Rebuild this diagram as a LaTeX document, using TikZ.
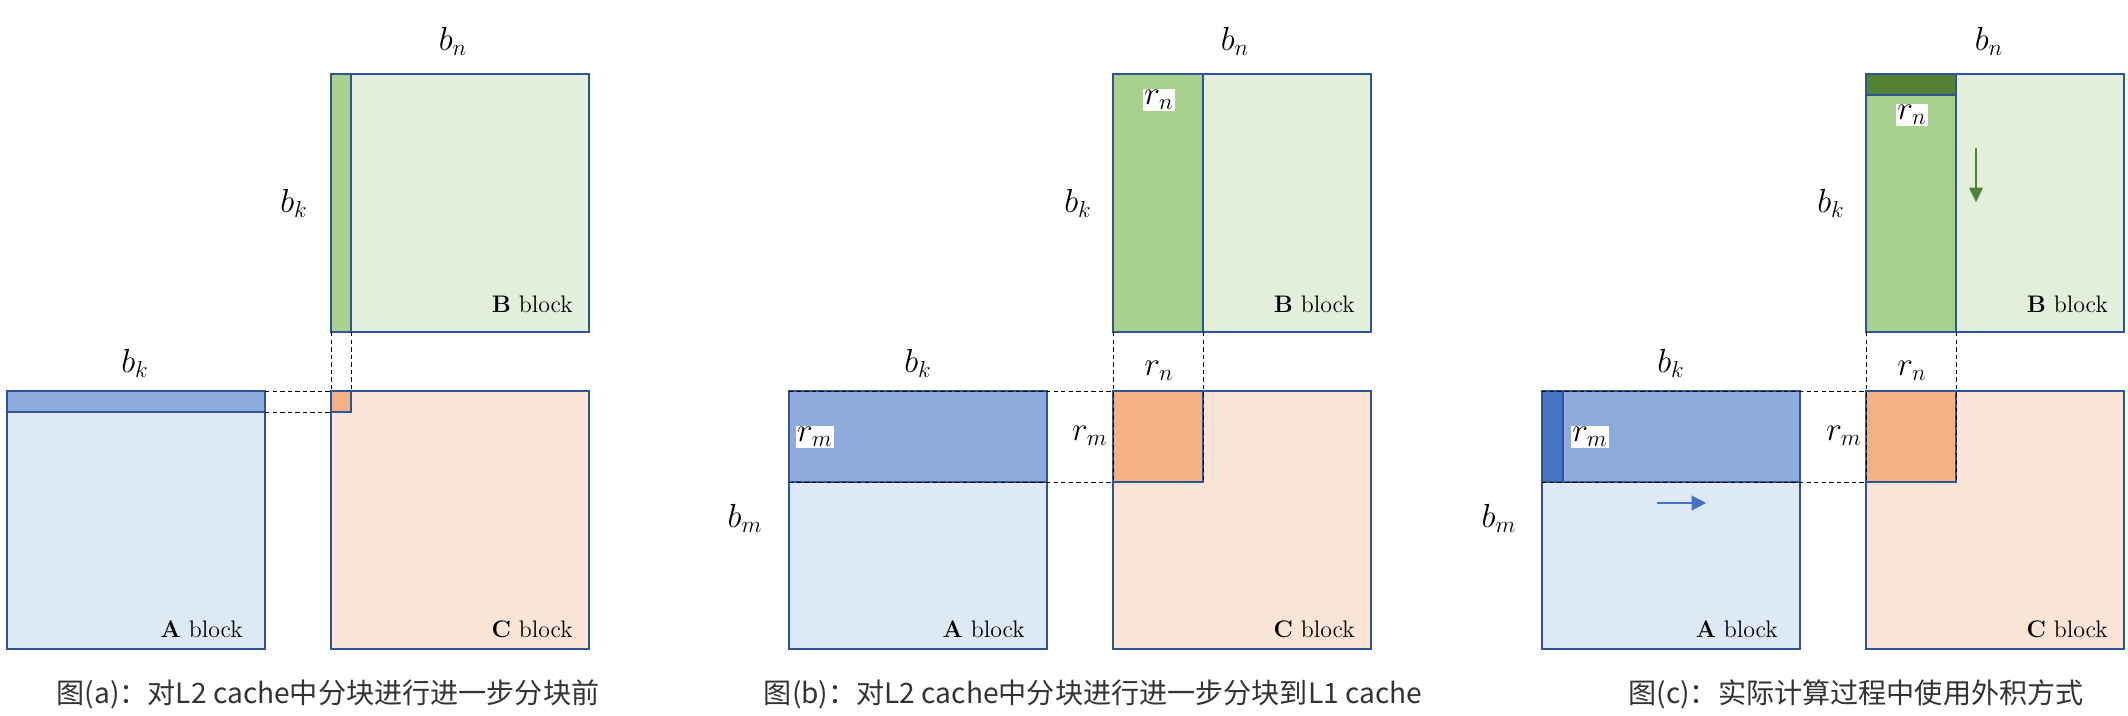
\documentclass[tikz,border=0pt]{standalone}
\usepackage{fontspec}
\newfontfamily\cjkfont{Noto Sans CJK SC}
\usetikzlibrary{arrows.meta}
\definecolor{edgeblue}{RGB}{47,85,151}
\definecolor{afill}{RGB}{222,233,246}
\definecolor{arow}{RGB}{143,170,220}
\definecolor{adark}{RGB}{68,114,196}
\definecolor{bfill}{RGB}{226,239,218}
\definecolor{bcol}{RGB}{169,209,142}
\definecolor{bdark}{RGB}{84,130,53}
\definecolor{cfill}{RGB}{251,229,214}
\definecolor{csub}{RGB}{244,177,131}
\tikzset{
  block/.style={draw=edgeblue, line width=1.4pt},
  subblock/.style={draw=edgeblue, line width=0.9pt},
  guide/.style={black, line width=0.5pt, dash pattern=on 2.5pt off 1.8pt},
  dimlbl/.style={font=\LARGE, scale=1.1, inner sep=1pt},
  boxlbl/.style={font=\LARGE, scale=1.1, fill=white, inner sep=0.5pt},
  blockname/.style={font=\fontsize{13.6}{16}\selectfont, anchor=east},
  caption/.style={font=\cjkfont\fontsize{16}{19}\selectfont, text=black!80}
}
\begin{document}
\begin{tikzpicture}[x=0.2mm, y=-0.2mm]
  \useasboundingbox (0,0) rectangle (2128,715);

  % Panel (a): before splitting the L2 blocks
  \begin{scope}[xshift=66.2mm]
    \fill[bfill] (0,74) rectangle (258,332);
    \fill[afill] (-324,391) rectangle (-66,649);
    \fill[cfill] (0,391) rectangle (258,649);
    \draw[subblock, fill=bcol] (0,74) rectangle (20,332);
    \draw[subblock, fill=arow] (-324,391) rectangle (-66,412);
    \draw[subblock, fill=csub] (0,391) rectangle (20,412);
    \draw[block] (0,74) rectangle (258,332);
    \draw[block] (-324,391) rectangle (-66,649);
    \draw[block] (0,391) rectangle (258,649);
    % guide lines
    \draw[guide] (-66,391) -- (0,391) (-66,412) -- (0,412);
    \draw[guide] (0,332) -- (0,391) (20,332) -- (20,391);
    % labels
    \node[dimlbl] (a-bn) at (122,41) {$b_n$};
    \node[dimlbl] (a-bkB) at (-37,203) {$b_k$};
    \node[dimlbl] (a-bkA) at (-196,363) {$b_k$};
    \node[blockname] (a-B) at (248,304) {\textbf{B} block};
    \node[blockname] (a-A) at (-82,629) {\textbf{A} block};
    \node[blockname] (a-C) at (248,629) {\textbf{C} block};
    \node[caption] (a-cap) at (-3,694) {图(a)：对L2 cache中分块进行进一步分块前};
  \end{scope}

  % Panel (b): split into L1 cache pieces
  \begin{scope}[xshift=222.6mm]
    \fill[bfill] (0,74) rectangle (258,332);
    \fill[afill] (-324,391) rectangle (-66,649);
    \fill[cfill] (0,391) rectangle (258,649);
    \draw[subblock, fill=bcol] (0,74) rectangle (90,332);
    \draw[subblock, fill=arow] (-324,391) rectangle (-66,482);
    \draw[subblock, fill=csub] (0,391) rectangle (90,482);
    \draw[block] (0,74) rectangle (258,332);
    \draw[block] (-324,391) rectangle (-66,649);
    \draw[block] (0,391) rectangle (258,649);
    % guide lines
    \draw[guide] (-324,391) -- (0,391) (-324,482) -- (0,482);
    \draw[guide] (0,332) -- (0,482) (90,332) -- (90,482);
    % labels
    \node[dimlbl] (b-bn) at (122,41) {$b_n$};
    \node[dimlbl] (b-bkB) at (-35,203) {$b_k$};
    \node[dimlbl] (b-bkA) at (-195,363) {$b_k$};
    \node[dimlbl] (b-bm) at (-368,518) {$b_m$};
    \node[boxlbl] (b-rnB) at (46,100) {$r_n$};
    \node[dimlbl] (b-rnC) at (46,371) {$r_n$};
    \node[boxlbl] (b-rmA) at (-298,437) {$r_m$};
    \node[dimlbl] (b-rmC) at (-23,436) {$r_m$};
    \node[blockname] (b-B) at (248,304) {\textbf{B} block};
    \node[blockname] (b-A) at (-82,629) {\textbf{A} block};
    \node[blockname] (b-C) at (248,629) {\textbf{C} block};
    \node[caption] (b-cap) at (-20,694) {图(b)：对L2 cache中分块进行进一步分块到L1 cache};
  \end{scope}

  % Panel (c): outer product inside the L1 pieces
  \begin{scope}[xshift=373.2mm]
    \fill[bfill] (0,74) rectangle (258,332);
    \fill[afill] (-324,391) rectangle (-66,649);
    \fill[cfill] (0,391) rectangle (258,649);
    \draw[subblock, fill=bcol] (0,74) rectangle (90,332);
    \draw[subblock, fill=bdark] (0,74) rectangle (90,95);
    \draw[subblock, fill=arow] (-324,391) rectangle (-66,482);
    \draw[subblock, fill=adark] (-324,391) rectangle (-303,482);
    \draw[subblock, fill=csub] (0,391) rectangle (90,482);
    \draw[block] (0,74) rectangle (258,332);
    \draw[block] (-324,391) rectangle (-66,649);
    \draw[block] (0,391) rectangle (258,649);
    % guide lines
    \draw[guide] (-324,391) -- (0,391) (-324,482) -- (0,482);
    \draw[guide] (0,332) -- (0,482) (90,332) -- (90,482);
    % moving direction
    \coordinate (c-gs) at (110,148);
    \coordinate (c-ge) at (110,202);
    \coordinate (c-bs) at (-209,503);
    \coordinate (c-be) at (-160,503);
    \draw[bdark, line width=0.7pt, -{Triangle[length=2.9mm, width=2.8mm]}] (c-gs) -- (c-ge);
    \draw[adark, line width=0.7pt, -{Triangle[length=2.9mm, width=3mm]}] (c-bs) -- (c-be);
    % labels
    \node[dimlbl] (c-bn) at (123,41) {$b_n$};
    \node[dimlbl] (c-bkB) at (-35,203) {$b_k$};
    \node[dimlbl] (c-bkA) at (-195,363) {$b_k$};
    \node[dimlbl] (c-bm) at (-367,518) {$b_m$};
    \node[boxlbl] (c-rnB) at (46,115) {$r_n$};
    \node[dimlbl] (c-rnC) at (46,371) {$r_n$};
    \node[boxlbl] (c-rmA) at (-276,437) {$r_m$};
    \node[dimlbl] (c-rmC) at (-22,436) {$r_m$};
    \node[blockname] (c-B) at (248,304) {\textbf{B} block};
    \node[blockname] (c-A) at (-82,629) {\textbf{A} block};
    \node[blockname] (c-C) at (248,629) {\textbf{C} block};
    \node[caption] (c-cap) at (-10,694) {图(c)：实际计算过程中使用外积方式};
  \end{scope}
\end{tikzpicture}
\end{document}
